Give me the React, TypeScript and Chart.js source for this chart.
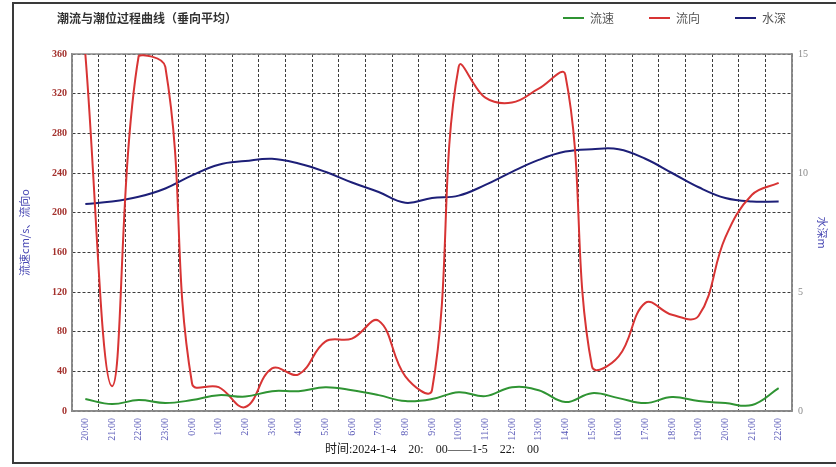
import React, { useEffect, useRef } from "react";
import { Chart, registerables } from "chart.js";

Chart.register(...registerables);

const chartTitle = "潮流与潮位过程曲线（垂向平均）";
const xAxisTitle = "时间:2024-1-4　20:　00——1-5　22:　00";
const leftAxisTitle = "流速cm/s、流向o";
const rightAxisTitle = "水深m";

const timeLabels = [
  "20:00", "21:00", "22:00", "23:00", "0:00", "1:00", "2:00", "3:00", "4:00",
  "5:00", "6:00", "7:00", "8:00", "9:00", "10:00", "11:00", "12:00", "13:00",
  "14:00", "15:00", "16:00", "17:00", "18:00", "19:00", "20:00", "21:00", "22:00",
];

const seriesNames = ["流速", "流向", "水深"];

const speedValues = [12, 7, 11, 8, 11, 16, 14.5, 20, 20, 24, 21, 16, 10, 12, 19, 15, 24, 21, 9, 18, 13, 8, 14, 10, 8, 6, 23];
const directionValues = [360, 25, 358, 347, 28, 24, 4, 43, 37, 70, 73, 91, 35, 21, 347, 316, 311, 325, 339, 45, 55, 109, 97, 96, 175, 218, 230];
const depthValues = [8.7, 8.8, 9.0, 9.35, 9.9, 10.35, 10.5, 10.6, 10.4, 10.05, 9.6, 9.2, 8.75, 8.95, 9.05, 9.5, 10.05, 10.55, 10.9, 11.0, 11.0, 10.6, 10.0, 9.4, 8.95, 8.8, 8.8];

const leftTicks = { min: 0, max: 360, step: 40 };
const rightTicks = { min: 0, max: 15, step: 5 };

const COLORS = ["#2f9433", "#d83434", "#1d1f78"];
const SERIF = "'Liberation Serif', 'Noto Sans CJK SC', serif";
const CJK = "'Noto Sans CJK SC', 'Liberation Serif', sans-serif";

const decorPlugin = {
  id: "decor",
  beforeDraw(chart: any) {
    const { ctx, width, height } = chart;
    ctx.save();
    ctx.fillStyle = "#ffffff";
    ctx.fillRect(0, 0, width, height);
    ctx.restore();
  },
  beforeDatasetsDraw(chart: any) {
    const { ctx, chartArea } = chart;
    ctx.save();
    ctx.strokeStyle = "#8a8a8a";
    ctx.lineWidth = 1.5;
    ctx.strokeRect(chartArea.left, chartArea.top, chartArea.right - chartArea.left, chartArea.bottom - chartArea.top);
    ctx.restore();
  },
  afterDraw(chart: any) {
    const { ctx, width, height } = chart;
    ctx.save();
    // outer frame
    ctx.strokeStyle = "#3a3a3a";
    ctx.lineWidth = 2;
    ctx.beginPath();
    ctx.moveTo(width + 5, 3);
    ctx.lineTo(13, 3);
    ctx.lineTo(13, 463);
    ctx.lineTo(width + 5, 463);
    ctx.stroke();

    // title
    ctx.fillStyle = "#333333";
    ctx.font = `bold 12px ${CJK}`;
    ctx.textAlign = "left";
    ctx.textBaseline = "middle";
    ctx.fillText(chartTitle, 57, 18);

    // legend
    ctx.font = `12px ${CJK}`;
    const boxW = 21;
    const gap = 6;
    const itemGap = 35;
    const ds = chart.data.datasets;
    const widths = ds.map((d: any) => boxW + gap + ctx.measureText(d.label).width);
    const total = widths.reduce((a: number, b: number) => a + b, 0) + itemGap * (ds.length - 1);
    let x = 786 - total;
    ds.forEach((d: any, i: number) => {
      ctx.strokeStyle = d.borderColor;
      ctx.lineWidth = 2;
      ctx.beginPath();
      ctx.moveTo(x, 18);
      ctx.lineTo(x + boxW, 18);
      ctx.stroke();
      ctx.fillStyle = "#555555";
      ctx.fillText(d.label, x + boxW + gap, 18);
      x += widths[i] + itemGap;
    });
    ctx.restore();
  },
};

export default function App() {
  const canvasRef = useRef<HTMLCanvasElement | null>(null);

  useEffect(() => {
    if (!canvasRef.current) return;
    const chart = new Chart(canvasRef.current, {
      type: "line",
      data: {
        labels: timeLabels,
        datasets: [
          {
            label: seriesNames[0],
            data: speedValues,
            borderColor: COLORS[0],
            backgroundColor: COLORS[0],
            borderWidth: 2,
            pointRadius: 0,
            tension: 0.4,
            yAxisID: "y",
          },
          {
            label: seriesNames[1],
            data: directionValues,
            borderColor: COLORS[1],
            backgroundColor: COLORS[1],
            borderWidth: 2,
            pointRadius: 0,
            tension: 0.4,
            yAxisID: "y",
          },
          {
            label: seriesNames[2],
            data: depthValues,
            borderColor: COLORS[2],
            backgroundColor: COLORS[2],
            borderWidth: 2,
            pointRadius: 0,
            tension: 0.4,
            yAxisID: "y1",
          },
        ],
      },
      options: {
        responsive: false,
        animation: false,
        layout: { padding: { top: 54, left: 0, right: 0, bottom: 0 } },
        plugins: {
          legend: { display: false },
          title: { display: false },
          tooltip: { enabled: false },
        },
        scales: {
          x: {
            type: "category",
            offset: true,
            afterFit: (s: any) => { s.height = 56; },
            grid: {
              offset: true,
              color: "#3c3c3c",
              lineWidth: 1,
              drawTicks: false,
            },
            border: { display: true, color: "#8a8a8a", width: 1.5, dash: [3, 2] },
            ticks: {
              autoSkip: false,
              minRotation: 90,
              maxRotation: 90,
              padding: 7,
              color: "#5a5ab8",
              font: { family: SERIF, size: 10 },
            },
            title: {
              display: true,
              text: xAxisTitle,
              color: "#1a1a1a",
              font: { family: SERIF, size: 12 },
              padding: { top: 0, bottom: 10 },
            },
          },
          y: {
            type: "linear",
            position: "left",
            min: leftTicks.min,
            max: leftTicks.max,
            afterFit: (s: any) => { s.width = 72; },
            grid: { color: "#3c3c3c", lineWidth: 1, drawTicks: false },
            border: { display: true, color: "#8a8a8a", width: 1.5, dash: [3, 2] },
            ticks: {
              stepSize: leftTicks.step,
              padding: 5,
              color: "#a3302c",
              font: { family: SERIF, size: 10, weight: "bold" },
            },
            title: {
              display: true,
              text: leftAxisTitle,
              color: "#4a4ab4",
              font: { family: CJK, size: 11 },
              padding: { top: 18, bottom: 0 },
            },
          },
          y1: {
            type: "linear",
            position: "right",
            min: rightTicks.min,
            max: rightTicks.max,
            afterFit: (s: any) => { s.width = 44; },
            grid: { display: false, drawTicks: false },
            border: { display: true, color: "#8a8a8a", width: 1.5 },
            ticks: {
              stepSize: rightTicks.step,
              padding: 6,
              color: "#8a8a8a",
              font: { family: SERIF, size: 10 },
            },
            title: {
              display: true,
              text: rightAxisTitle,
              color: "#4a4ab4",
              font: { family: CJK, size: 11 },
              padding: { top: 7, bottom: 0 },
            },
          },
        },
      },
      plugins: [decorPlugin],
    } as any);
    return () => chart.destroy();
  }, []);

  return (
    <div style={{ position: "fixed", left: 0, top: 0, width: 836, height: 467, background: "#ffffff" }}>
      <canvas ref={canvasRef} width={836} height={467} style={{ display: "block", width: 836, height: 467 }} />
    </div>
  );
}
